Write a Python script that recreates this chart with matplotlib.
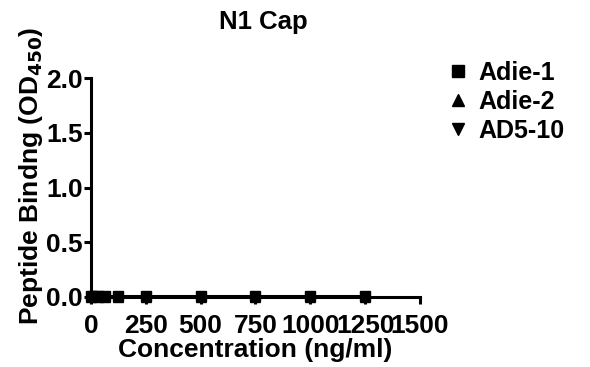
import matplotlib
matplotlib.use("Agg")
import matplotlib.pyplot as plt
from matplotlib.lines import Line2D

plt.rcParams['font.family'] = ['Liberation Sans', 'DejaVu Sans']
plt.rcParams['font.weight'] = 'bold'
plt.rcParams['mathtext.default'] = 'regular'

conc = [0, 15.6, 31.25, 62.5, 125, 250, 500, 750, 1000, 1250]
adie1 = [0.01, 0.01, 0.01, 0.01, 0.01, 0.01, 0.01, 0.01, 0.01, 0.01]
adie2 = [0.0, 0.01, 0.0, 0.0, 0.0, 0.0, 0.0, 0.0, 0.0, 0.0]
ad510 = [-0.01, 0.0, 0.0, 0.0, 0.0, 0.0, 0.0, 0.0, 0.0, 0.0]
series_names = ["Adie-1", "Adie-2", "AD5-10"]
markers = ["s", "^", "v"]
xticks = [0, 250, 500, 750, 1000, 1250, 1500]
yticks = [0.0, 0.5, 1.0, 1.5, 2.0]

fig = plt.figure(figsize=(5.9, 3.67), dpi=100)
ax = fig.add_axes([0.154, 0.182, 0.558, 0.605])

for vals, m in zip([adie1, adie2, ad510], markers):
    ax.plot(conc, vals, color='black', marker=m, markersize=7, linewidth=2.2,
            clip_on=False, zorder=3)

ax.set_xlim(0, 1500)
ax.set_ylim(-0.03, 2.0)
ax.set_xticks(xticks)
ax.set_yticks(yticks)
ax.set_yticklabels([f"{v:.1f}" for v in yticks])
for s in ['top', 'right']:
    ax.spines[s].set_visible(False)
ax.spines['bottom'].set_position(('data', 0))
for s in ['left', 'bottom']:
    ax.spines[s].set_linewidth(2.2)
ax.tick_params(axis='both', direction='out', width=2.2, length=5, labelsize=19, pad=1)
for lab in ax.get_xticklabels() + ax.get_yticklabels():
    lab.set_fontweight('bold')
ax.tick_params(axis='x', pad=7)

ax.set_xlabel("Concentration (ng/ml)", fontsize=19, fontweight='bold', labelpad=0)
ax.set_ylabel(r"Peptide Bindng (OD$_{\mathbf{450}}$)", fontsize=19, fontweight='bold')
ax.yaxis.set_label_coords(-0.14, 0.56)

fig.text(0.446, 0.94, "N1 Cap", fontsize=18.5, fontweight='bold', ha='center', va='center')

handles = [Line2D([], [], color='black', marker=m, linestyle='None', markersize=8)
           for m in markers]
leg = fig.legend(handles, series_names, loc='upper left', bbox_to_anchor=(0.738, 0.862),
                 frameon=False, fontsize=18, handletextpad=0.3, labelspacing=0.2,
                 handlelength=1.0, borderaxespad=0)
for t in leg.get_texts():
    t.set_fontweight('bold')

fig.savefig("out.png", dpi=100)
